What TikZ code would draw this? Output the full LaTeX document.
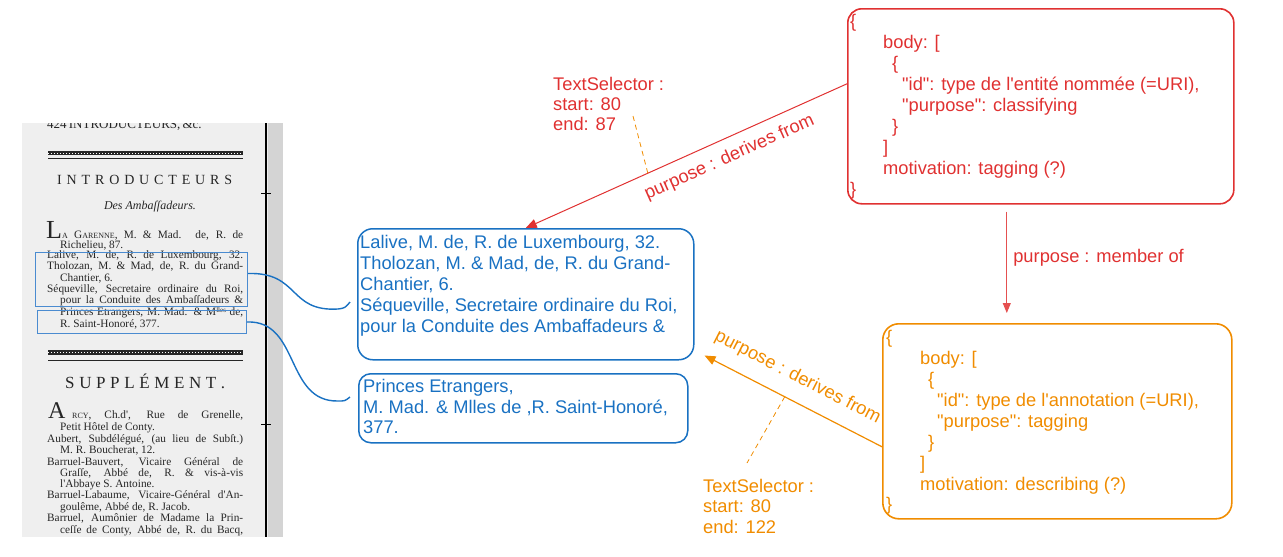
\documentclass[tikz,border=0pt]{standalone}
\usepackage{fontspec}
\setmainfont{Liberation Sans}
\newfontfamily\handfont{Liberation Sans}
\newfontfamily\scanfont{Liberation Serif}
\usetikzlibrary{arrows.meta}
\definecolor{exred}{HTML}{E03131}
\definecolor{exorange}{HTML}{F08C00}
\definecolor{exblue}{HTML}{1971C2}
\definecolor{scanblue}{HTML}{4A8BD0}
\definecolor{ink}{HTML}{262626}
\definecolor{paper}{HTML}{EFEFEF}
\definecolor{paperdark}{HTML}{D4D4D4}
\newcommand\hand{\handfont\fontsize{18.3}{21}\selectfont}
\newcommand\scn{\scanfont\fontsize{11.3}{11.3}\selectfont}
\newcommand\smc[1]{{\fontsize{8}{8}\selectfont #1}}
\newcommand\jl[1]{\makebox[196pt][s]{#1}}
\newcommand\jm[1]{\makebox[183pt][s]{#1}}
\begin{document}
\begin{tikzpicture}[x=1pt,y=-1pt,
  box/.style={draw, rounded corners=14pt, line width=1.6pt, inner sep=0pt, anchor=north west},
  ln/.style={anchor=base west, inner sep=0pt},
  scanline/.style={anchor=base west, inner sep=0pt, text=ink, font=\scn},
  scanrect/.style={draw=scanblue, line width=1pt, inner sep=0pt, anchor=north west},
  connector/.style={exblue, line width=1.4pt},
  seldash/.style={exorange, line width=0.8pt, dash pattern=on 5pt off 4pt},
  lbl/.style={font=\hand}]
\useasboundingbox (0,0) rectangle (1283,557);

% ---------- scanned page ----------
\begin{scope}
\clip (22,123) rectangle (283,537);
\fill[paper] (22,123) rectangle (283,537);
\fill[paperdark] (268,123) rectangle (283,537);
\draw[black, line width=2.5pt] (266,123) -- (266,537);
\draw[black, line width=1pt] (261,193) -- (271,193);
\draw[black, line width=1pt] (261,424) -- (271,424);
\node[scanline, font=\scanfont\fontsize{13}{13}\selectfont] (sc0) at (47,128) {\makebox[136pt][s]{424 INTRODUCTEURS, \&c.}};
\fill[ink] (48,151) rectangle (243,155);
\draw[white, line width=0.6pt, dash pattern=on 1pt off 2pt] (48,153) -- (243,153);
\draw[ink, line width=0.8pt] (48,158.5) -- (243,158.5);
\node[scanline, font=\scanfont\fontsize{14}{14}\selectfont] (sc1) at (57,184) {\makebox[175pt][s]{I N T R O D U C T E U R S}};
\node[anchor=base, inner sep=0pt, text=ink, font=\scanfont\itshape\fontsize{12}{12}\selectfont] (sc2) at (150,209) {Des Amba\char"017F\char"017Fadeurs.};
\node[scanline, font=\scanfont\fontsize{26}{26}\selectfont] (sc3) at (46,238) {L};
\node[scanline] (sc4) at (62,238) {\makebox[181pt][s]{\smc{A} G\smc{ARENNE}, M. \& Mad. de, R. de}};
\node[scanline] (sc5) at (60,248) {Richelieu, 87.};
\node[scanline] (sc6) at (47,258) {\jl{Lalive, M. de, R. de Luxembourg, 32.}};
\node[scanline] (sc7) at (47,269) {\jl{Tholozan, M. \& Mad, de, R. du Grand-}};
\node[scanline] (sc8) at (60,281) {Chantier, 6.};
\node[scanline] (sc9) at (47,292) {\jl{Séqueville, Secretaire ordinaire du Roi,}};
\node[scanline] (sc10) at (60,303) {\jm{pour la Conduite des Amba\char"017F\char"017Fadeurs \&}};
\node[scanline] (sc11) at (60,315) {\jm{Princes Etrangers, M. Mad. \& M\raisebox{3pt}{\fontsize{7}{7}\selectfont lles} de,}};
\node[scanline] (sc12) at (60,327) {R. Saint-Honoré, 377.};
\fill[ink] (48,350) rectangle (243,355);
\draw[white, line width=0.6pt, dash pattern=on 1pt off 2pt] (48,352.5) -- (243,352.5);
\draw[ink, line width=0.8pt] (48,360) -- (243,360);
\node[scanline, font=\scanfont\fontsize{17}{17}\selectfont] (sc13) at (65,388) {\makebox[160pt][s]{S U P P L É M E N T .}};
\node[scanline, font=\scanfont\fontsize{24}{24}\selectfont] (sc14) at (48,418) {A};
\node[scanline] (sc15) at (72,418) {\makebox[171pt][s]{\smc{RCY}, Ch.d', Rue de Grenelle,}};
\node[scanline] (sc16) at (60,430) {Petit Hôtel de Conty.};
\node[scanline] (sc17) at (47,442) {\jl{Aubert, Subdélégué, (au lieu de Sub\char"017Ft.)}};
\node[scanline] (sc18) at (60,453) {M. R. Boucherat, 12.};
\node[scanline] (sc19) at (47,465) {\jl{Barruel-Bauvert, Vicaire Général de}};
\node[scanline] (sc20) at (60,476) {\jm{Gra\char"017F\char"017Fe, Abbé de, R. \& vis-à-vis}};
\node[scanline] (sc21) at (60,487) {l'Abbaye S. Antoine.};
\node[scanline] (sc22) at (47,498) {\jl{Barruel-Labaume, Vicaire-Général d'An-}};
\node[scanline] (sc23) at (60,510) {goulême, Abbé de, R. Jacob.};
\node[scanline] (sc24) at (47,521) {\jl{Barruel, Aumônier de Madame la Prin-}};
\node[scanline] (sc25) at (60,533) {\jm{ce\char"017F\char"017Fe de Conty, Abbé de, R. du Bacq,}};
\end{scope}
\node[scanrect, minimum width=212pt, minimum height=54pt] (s1) at (35,252) {};
\node[scanrect, minimum width=209pt, minimum height=23pt] (s2) at (37,310) {};

% ---------- boxes ----------
\node[box, draw=exred, minimum width=386pt, minimum height=195pt] (red) at (847,8) {};
\node[box, draw=exorange, rounded corners=16pt, minimum width=349pt, minimum height=195pt] (orange) at (882,323) {};
\node[box, draw=exblue, rounded corners=15pt, line width=1.5pt, minimum width=336pt, minimum height=131pt] (b1) at (357,228) {};
\node[box, draw=exblue, rounded corners=12pt, line width=1.5pt, minimum width=329pt, minimum height=69pt] (b2) at (358,373) {};

% ---------- texts ----------
\foreach \x/\y/\t [count=\i] in {850/27/{\{}, 883/48/{body: [}, 892/69/{\{},
  902/90/{"id": type de l'entité nommée (=URI),}, 902/111/{"purpose": classifying},
  892/132/{\}}, 883/153/{]}, 883/174/{motivation: tagging (?)}, 850/195/{\}}}
  \node[ln, text=exred, font=\hand] (rl\i) at (\x,\y) {\t};
\foreach \x/\y/\t [count=\i] in {886/343/{\{}, 920/364/{body: [}, 928/385/{\{},
  937/406/{"id": type de l'annotation (=URI),}, 937/427/{"purpose": tagging},
  928/448/{\}}, 920/469/{]}, 920/490/{motivation: describing (?)}, 886/510/{\}}}
  \node[ln, text=exorange, font=\hand] (ol\i) at (\x,\y) {\t};
\foreach \y/\t [count=\i] in {248/{Lalive, M. de, R. de Luxembourg, 32.},
  269/{Tholozan, M. \& Mad, de, R. du Grand-}, 290/{Chantier, 6.},
  311/{Séqueville, Secretaire ordinaire du Roi,}, 332/{pour la Conduite des Ambaffadeurs \&}}
  \node[ln, text=exblue, font=\hand] (bl\i) at (360,\y) {\t};
\foreach \y/\t [count=\i] in {392/{Princes Etrangers,},
  413/{M. Mad. \& Mlles de ,R. Saint-Honoré,}, 433/{377.}}
  \node[ln, text=exblue, font=\hand] (cl\i) at (363,\y) {\t};
\foreach \y/\t [count=\i] in {90/{TextSelector :}, 110/{start: 80}, 130/{end: 87}}
  \node[ln, text=exred, font=\hand] (rts\i) at (553,\y) {\t};
\foreach \y/\t [count=\i] in {492/{TextSelector :}, 512/{start: 80}, 533/{end: 122}}
  \node[ln, text=exorange, font=\hand] (ots\i) at (703,\y) {\t};

% ---------- connectors ----------
\draw[exred, line width=1pt, {Triangle[length=11pt,width=9pt]}-]
  (b1.north) -- coordinate[pos=0.38] (rdash)
  node[lbl, sloped, below, pos=0.61, inner sep=10pt, text=exred] (lab1) {purpose : derives from}
  ([yshift=22.5pt]red.west);
\coordinate (rdtop) at (633,116);
\draw[seldash] (rdtop) -- (rdash);

\coordinate (vtop) at ([xshift=-34pt]red.south);
\draw[exred!85, line width=1pt, -{Triangle[length=10pt,width=8pt]}, shorten <=7pt, shorten >=10pt]
  (vtop) -- node[lbl, right, pos=0.45, inner sep=6pt, text=exred] (lab2) {purpose : member of}
  (vtop |- orange.north);

\draw[exorange, line width=1.2pt, {Triangle[length=11pt,width=9pt]}-]
  ([xshift=10pt,yshift=5pt]b1.south east) -- coordinate[pos=0.452] (odash)
  node[lbl, sloped, above, pos=0.465, inner sep=14pt, text=exorange] (lab3) {purpose : derives from}
  ([yshift=-25.5pt]orange.west);
\coordinate (odbot) at (747,463);
\draw[seldash] (odash) -- (odbot);

\coordinate (c1end) at (350,302);
\coordinate (c2end) at (350,397);
\draw[connector] ([yshift=6pt]s1.east) .. controls (300,272) and (288,312) .. (338,309)
  .. controls (345,308) .. (c1end);
\draw[connector] (s2.east) .. controls (300,320) and (285,402) .. (338,401)
  .. controls (345,401) .. (c2end);
\end{tikzpicture}
\end{document}
